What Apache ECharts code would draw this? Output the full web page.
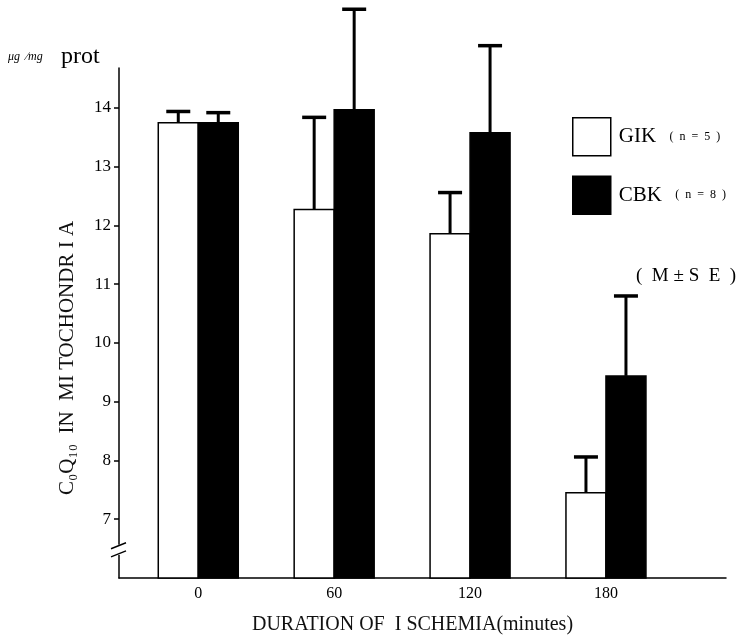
<!DOCTYPE html>
<html>
<head>
<meta charset="utf-8">
<script src="https://cdn.jsdelivr.net/npm/echarts@6/dist/echarts.min.js"></script>
<style>
html,body{margin:0;padding:0;background:#fff;}
#chart{width:742px;height:640px;}
</style>
</head>
<body>
<div id="chart"></div>
<script>
// ---- data ----
const durations = [0, 60, 120, 180];
const gikMeans = [13.75, 12.27, 11.86, 7.45];
const gikSE    = [0.19, 1.57, 0.70, 0.61];
const cbkMeans = [13.75, 13.97, 13.58, 9.44];
const cbkSE    = [0.17, 1.71, 1.48, 1.36];
const groupNames = ['GIK', 'CBK'];
const groupN = [5, 8];
const yTickValues = [7, 8, 9, 10, 11, 12, 13, 14];
const xTickValues = [0, 60, 120, 180];

const SERIF = '"Liberation Serif", "DejaVu Serif", serif';
const chart = echarts.init(document.getElementById('chart'), null, {renderer: 'canvas'});

function renderer(side, fill) {
  return function (params, api) {
    const x = api.value(0), m = api.value(1), se = api.value(2);
    const base = api.coord([x, 6]);
    const top = api.coord([x, m]);
    const cap = api.coord([x, m + se]);
    const w = 40;
    const left = side < 0 ? top[0] - w : top[0];
    const cx = left + w / 2;
    return {
      type: 'group',
      children: [
        {type: 'rect', shape: {x: left, y: top[1], width: w, height: base[1] - top[1]},
         style: {fill: fill, stroke: '#000', lineWidth: 1.5}},
        {type: 'line', shape: {x1: cx, y1: top[1], x2: cx, y2: cap[1]},
         style: {stroke: '#000', lineWidth: 3}},
        {type: 'line', shape: {x1: cx - 12, y1: cap[1], x2: cx + 12, y2: cap[1]},
         style: {stroke: '#000', lineWidth: 3.5}}
      ]
    };
  };
}

const option = {
  backgroundColor: '#fff',
  animation: false,
  grid: {left: 119, right: 16, top: 68, bottom: 62},
  xAxis: {
    type: 'value', min: -35, max: 233,
    splitLine: {show: false},
    axisLine: {onZero: false, lineStyle: {color: '#000', width: 1.5}},
    axisTick: {show: false},
    axisLabel: {customValues: xTickValues, color: '#000', fontFamily: SERIF, fontSize: 16, margin: 8},
    name: 'DURATION OF  I SCHEMIA(minutes)',
    nameLocation: 'middle', nameGap: 37,
    nameTextStyle: {color: '#111', fontFamily: SERIF, fontSize: 20, padding: [0, 20, 0, 0]}
  },
  yAxis: {
    type: 'value', min: 6, max: 14.68,
    splitLine: {show: false},
    axisLine: {show: true, onZero: false, lineStyle: {color: '#000', width: 1.5}},
    axisTick: {show: true, customValues: yTickValues, length: 5, lineStyle: {color: '#000', width: 1.5}},
    axisLabel: {customValues: yTickValues, color: '#000', fontFamily: SERIF, fontSize: 17, margin: 8}
  },
  legend: {
    orient: 'vertical', left: 567, top: 112,
    itemWidth: 38, itemHeight: 38, itemGap: 19,
    icon: 'rect',
    selectedMode: false,
    data: [
      {name: groupNames[0], itemStyle: {color: '#fff', borderColor: '#000', borderWidth: 1.5}},
      {name: groupNames[1], itemStyle: {color: '#000', borderColor: '#000', borderWidth: 1.5}}
    ],
    formatter: function (name) {
      const i = groupNames.indexOf(name);
      return '{a|' + name + '}    {b|(  n  =  ' + groupN[i] + '  )}';
    },
    textStyle: {
      padding: [0, 0, 0, 3],
      rich: {
        a: {fontFamily: SERIF, fontSize: 21, color: '#000'},
        b: {fontFamily: SERIF, fontSize: 12, color: '#000'}
      }
    }
  },
  series: [
    {
      name: groupNames[0], type: 'custom', clip: false,
      itemStyle: {color: '#fff', borderColor: '#000'},
      renderItem: renderer(-1, '#fff'),
      encode: {x: 0, y: 1},
      data: durations.map((d, i) => [d, gikMeans[i], gikSE[i]])
    },
    {
      name: groupNames[1], type: 'custom', clip: false,
      itemStyle: {color: '#000', borderColor: '#000'},
      renderItem: renderer(1, '#000'),
      encode: {x: 0, y: 1},
      data: durations.map((d, i) => [d, cbkMeans[i], cbkSE[i]])
    }
  ]
};
chart.setOption(option);

// decorations: axis break, unit label, y title, M±SE note
const ax = chart.convertToPixel({xAxisIndex: 0}, -35);
const b1 = chart.convertToPixel({yAxisIndex: 0}, 6.55);
const b2 = chart.convertToPixel({yAxisIndex: 0}, 6.41);
chart.setOption({
  graphic: [
    {type: 'rect', shape: {x: ax - 2, y: b1 - 1, width: 4, height: b2 - b1 + 2}, style: {fill: '#fff'}, z: 100},
    {type: 'line', shape: {x1: ax - 8, y1: b1 + 3, x2: ax + 7, y2: b1 - 3}, style: {stroke: '#000', lineWidth: 1.5}, z: 101},
    {type: 'line', shape: {x1: ax - 8, y1: b2 + 3, x2: ax + 7, y2: b2 - 3}, style: {stroke: '#000', lineWidth: 1.5}, z: 101},
    {type: 'text', x: 8, y: 57,
     style: {text: 'μg  ∕mg', fontFamily: SERIF, fontStyle: 'italic', fontSize: 12, fill: '#000', verticalAlign: 'middle'}},
    {type: 'text', x: 61, y: 57,
     style: {text: 'prot', fontFamily: SERIF, fontSize: 24, fill: '#000', verticalAlign: 'middle'}},
    {type: 'text', x: 67, y: 358, rotation: Math.PI / 2,
     style: {text: 'C₀Q₁₀  IN  MI TOCHONDR I A', fontFamily: SERIF, fontSize: 21, fill: '#111',
             align: 'center', verticalAlign: 'middle'}},
    {type: 'text', x: 636, y: 276,
     style: {text: '(  M ± S  E  )', fontFamily: SERIF, fontSize: 19, fill: '#000', verticalAlign: 'middle'}}
  ]
});
</script>
</body>
</html>
